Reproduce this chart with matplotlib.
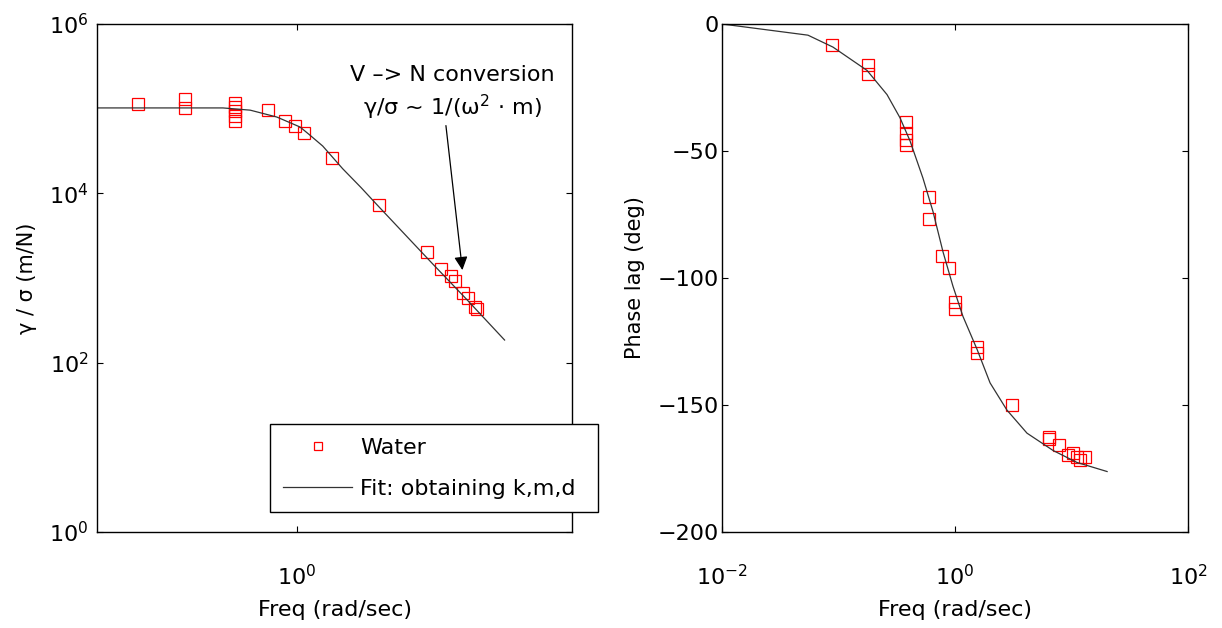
import numpy as np
import matplotlib
matplotlib.use('agg')
import matplotlib.pyplot as plt

plt.rcParams['font.family'] = ['DejaVu Sans']
plt.rcParams['mathtext.default'] = 'regular'
plt.rcParams['axes.unicode_minus'] = True

# --- magnitude panel ---
mag_freq = [0.094, 0.19, 0.19, 0.40, 0.40, 0.40, 0.40, 0.40, 0.65, 0.84, 0.98, 1.11,
            1.68, 3.4, 6.9, 8.6, 9.9, 10.5, 11.8, 12.7, 14.1, 14.5]
mag_val = [1.13e5, 1.3e5, 1.02e5, 1.17e5, 1.05e5, 9.4e4, 8.2e4, 7.1e4, 9.6e4, 7.1e4, 6.2e4, 5.2e4,
           2.6e4, 7.3e3, 2.03e3, 1.28e3, 1.06e3, 920, 665, 580, 455, 430]

mag_fit_freq = [0.0512, 0.176, 0.333, 0.50, 0.743, 1.05, 1.21, 1.47, 1.98, 2.6, 3.28, 5.36, 7.54,
                12.5, 22.0]
mag_fit_val = [1.02e5, 1.02e5, 1.02e5, 9.6e4, 7.96e4, 6.07e4, 4.9e4, 3.62e4, 1.95e4, 1.17e4,
               7.4e3, 2.85e3, 1.47e3, 560, 185]

# --- phase panel ---
ph_freq = [0.088, 0.179, 0.179, 0.38, 0.38, 0.38, 0.38, 0.60, 0.60, 0.77, 0.89, 1.0, 1.0,
           1.55, 1.55, 3.08, 6.4, 6.4, 7.8, 9.3, 10.3, 11.1, 11.8, 13.1]
ph_val = [-8.3, -16.3, -19.8, -38.5, -42.9, -45.6, -47.6, -68.3, -76.6, -91.3, -96.0, -109.5, -112.3,
          -127.0, -129.4, -150.0, -162.7, -163.5, -165.9, -169.8, -169.0, -170.6, -171.8, -170.6]

ph_fit_freq = [0.01, 0.0547, 0.0897, 0.176, 0.261, 0.337, 0.411, 0.531, 0.647, 0.789, 0.96, 1.17,
               1.55, 2.0, 2.79, 4.15, 6.94, 11.1, 20.2]
ph_fit_val = [0.0, -4.4, -9.1, -18.3, -27.8, -36.9, -46.0, -60.7, -73.8, -89.7, -103.2, -115.1,
              -128.2, -141.3, -152.0, -161.1, -167.9, -172.6, -176.2]

fs = 16      # horizontal text
fs_y = 15    # rotated axis labels

fig = plt.figure(figsize=(12.22, 6.28), dpi=100)
ax1 = fig.add_axes([0.0794, 0.1529, 0.3887, 0.8089])
ax2 = fig.add_axes([0.5908, 0.1529, 0.3814, 0.8089])

for ax in [ax1, ax2]:
    ax.tick_params(direction='in', top=True, right=True, length=4, width=0.8,
                   labelsize=fs, which='major')
    ax.tick_params(axis='x', pad=23)
    ax.tick_params(which='minor', length=0)
    for s in ax.spines.values():
        s.set_linewidth(1.0)

# left panel
ax1.loglog(mag_freq, mag_val, 's', mfc='none', mec='r', ms=8, mew=0.9, label='Water')
ax1.loglog(mag_fit_freq, mag_fit_val, '-', color='#333333', lw=0.9, label='Fit: obtaining k,m,d')
ax1.set_xlim(0.0512, 60)
ax1.set_ylim(1, 1e6)
ax1.set_xticks([1])
ax1.set_yticks([1, 1e2, 1e4, 1e6])
ax1.minorticks_off()
ax1.tick_params(axis='y', pad=6)
ax1.set_xlabel('Freq (rad/sec)', fontsize=fs, labelpad=8)
ax1.set_ylabel('γ / σ (m/N)', fontsize=fs_y, labelpad=9)

ax1.text(10.1, 3.3e5, 'V –> N conversion\nγ/σ ~ 1/(ω$^{2}$ · m)', ha='center', va='top',
         fontsize=fs, linespacing=1.35)
ax1.annotate('', xy=(11.8, 1.15e3), xytext=(9.15, 6.8e4),
             arrowprops=dict(arrowstyle='-|>', color='k', lw=0.9, mutation_scale=20))

leg = ax1.legend(loc='lower left', bbox_to_anchor=(0.364, 0.039, 0.691, 0.172), mode='expand',
                 fontsize=fs, fancybox=False, framealpha=1, edgecolor='k', borderaxespad=0,
                 handlelength=3.1, handletextpad=0.35, borderpad=0.6, markerscale=0.7,
                 labelspacing=0.95)
leg.get_frame().set_linewidth(1.0)

# right panel
ax2.semilogx(ph_freq, ph_val, 's', mfc='none', mec='r', ms=8, mew=0.9)
ax2.semilogx(ph_fit_freq, ph_fit_val, '-', color='#333333', lw=0.9)
ax2.set_xlim(1e-2, 1e2)
ax2.set_ylim(-200, 0)
ax2.set_xticks([1e-2, 1, 1e2])
ax2.set_yticks([0, -50, -100, -150, -200])
ax2.minorticks_off()
ax2.tick_params(axis='y', pad=2)
ax2.set_xlabel('Freq (rad/sec)', fontsize=fs, labelpad=8)
ax2.set_ylabel('Phase lag (deg)', fontsize=fs_y, labelpad=9)

plt.savefig('out.png', dpi=100)
